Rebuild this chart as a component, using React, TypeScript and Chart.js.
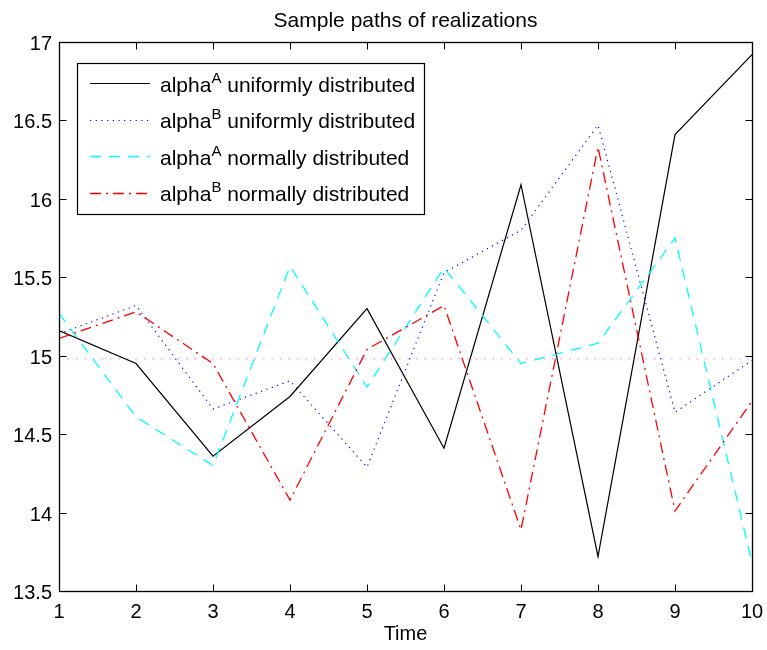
import React, { useEffect, useRef } from "react";
import { Chart, registerables } from "chart.js";

Chart.register(...registerables);

// ---------- data ----------
const timeSteps = [1, 2, 3, 4, 5, 6, 7, 8, 9, 10];
const alphaAUniform = [15.16, 14.95, 14.36, 14.74, 15.3, 14.41, 16.09, 13.72, 16.41, 16.92];
const alphaBUniform = [15.14, 15.32, 14.66, 14.84, 14.29, 15.53, 15.8, 16.47, 14.64, 14.97];
const alphaANormal = [15.27, 14.61, 14.3, 15.57, 14.8, 15.56, 14.95, 15.08, 15.75, 13.68];
const alphaBNormal = [15.11, 15.28, 14.95, 14.08, 15.04, 15.32, 13.89, 16.33, 14.01, 14.71];
const referenceLevel = [14.98, 14.98, 14.98, 14.98, 14.98, 14.98, 14.98, 14.98, 14.98, 14.98];

const xTicks = [1, 2, 3, 4, 5, 6, 7, 8, 9, 10];
const yTicks = [13.5, 14, 14.5, 15, 15.5, 16, 16.5, 17];
const yTickLabels = ["13.5", "14", "14.5", "15", "15.5", "16", "16.5", "17"];

const legendBase = ["alpha", "alpha", "alpha", "alpha"];
const legendSup = ["A", "B", "A", "B"];
const legendRest = [
  " uniformly distributed",
  " uniformly distributed",
  " normally distributed",
  " normally distributed",
];

const titleText = "Sample paths of realizations";
const xLabelText = "Time";

const FONT = '"Liberation Sans", Arial, Helvetica, sans-serif';

const seriesStyles = [
  { color: "rgb(0,0,0)", dash: [] as number[], width: 1.2 },
  { color: "rgb(0,0,255)", dash: [1.2, 4.5], width: 1.2 },
  { color: "rgb(0,255,255)", dash: [11, 8], width: 1.3 },
  { color: "rgb(255,0,0)", dash: [11, 5, 2, 5], width: 1.3 },
];

const toPoints = (ys: number[]) => ys.map((v, i) => ({ x: timeSteps[i], y: v }));

const matlabAxesPlugin = {
  id: "matlabAxes",
  afterDatasetsDraw(chart: any) {
    const { ctx, chartArea, scales } = chart;
    const xs = scales.x;
    const ys = scales.y;
    const L = Math.round(chartArea.left) + 0.5;
    const R = Math.round(chartArea.right) + 0.5;
    const T = Math.round(chartArea.top) + 0.5;
    const B = Math.round(chartArea.bottom) + 0.5;
    const tick = 7;

    ctx.save();
    ctx.setLineDash([]);
    ctx.strokeStyle = "#000";
    ctx.lineWidth = 1;

    // ticks (inward, all four sides)
    ctx.beginPath();
    xTicks.forEach((v) => {
      const px = Math.round(xs.getPixelForValue(v)) + 0.5;
      ctx.moveTo(px, B);
      ctx.lineTo(px, B - tick);
      ctx.moveTo(px, T);
      ctx.lineTo(px, T + tick);
    });
    yTicks.forEach((v) => {
      const py = Math.round(ys.getPixelForValue(v)) + 0.5;
      ctx.moveTo(L, py);
      ctx.lineTo(L + tick, py);
      ctx.moveTo(R, py);
      ctx.lineTo(R - tick, py);
    });
    ctx.stroke();

    // box
    ctx.lineWidth = 1.3;
    ctx.strokeRect(L, T, R - L, B - T);

    // tick labels
    ctx.fillStyle = "#000";
    ctx.font = `20px ${FONT}`;
    ctx.textAlign = "center";
    ctx.textBaseline = "alphabetic";
    xTicks.forEach((v) => {
      ctx.fillText(String(v), xs.getPixelForValue(v), chartArea.bottom + 26.5);
    });
    ctx.textAlign = "right";
    yTicks.forEach((v, i) => {
      ctx.fillText(yTickLabels[i], chartArea.left - 7, ys.getPixelForValue(v) + 8);
    });

    // title
    ctx.textAlign = "center";
    ctx.font = `21px ${FONT}`;
    ctx.fillText(titleText, (chartArea.left + chartArea.right) / 2, 26.5);

    // x label
    ctx.font = `20px ${FONT}`;
    ctx.fillText(xLabelText, (chartArea.left + chartArea.right) / 2, chartArea.bottom + 48.5);

    // legend
    const bx = Math.round(chartArea.left + 18) + 0.5;
    const by = Math.round(chartArea.top + 21) + 0.5;
    const bw = 347;
    const bh = 151;
    ctx.fillStyle = "#fff";
    ctx.fillRect(bx, by, bw, bh);
    ctx.lineWidth = 1.2;
    ctx.strokeStyle = "#000";
    ctx.strokeRect(bx, by, bw, bh);

    legendBase.forEach((base, i) => {
      const rowY = chartArea.top + 41.3 + i * 36.4;
      const st = seriesStyles[i];
      ctx.save();
      ctx.beginPath();
      ctx.setLineDash(st.dash.slice());
      ctx.strokeStyle = st.color;
      ctx.lineWidth = st.width;
      ctx.moveTo(chartArea.left + 31, Math.round(rowY) + 0.5);
      ctx.lineTo(chartArea.left + 91, Math.round(rowY) + 0.5);
      ctx.stroke();
      ctx.restore();

      let tx = chartArea.left + 101;
      const baseY = rowY + 8.5;
      ctx.fillStyle = "#000";
      ctx.textAlign = "left";
      ctx.font = `21px ${FONT}`;
      ctx.fillText(base, tx, baseY);
      tx += ctx.measureText(base).width;
      ctx.font = `15px ${FONT}`;
      ctx.fillText(legendSup[i], tx, baseY - 9);
      tx += ctx.measureText(legendSup[i]).width;
      ctx.font = `21px ${FONT}`;
      ctx.fillText(legendRest[i], tx, baseY);
    });

    ctx.restore();
  },
};

export default function App() {
  const canvasRef = useRef<HTMLCanvasElement | null>(null);

  useEffect(() => {
    const canvas = canvasRef.current;
    if (!canvas) return;
    const datasets: any[] = [
      {
        label: "reference",
        data: toPoints(referenceLevel),
        borderColor: "#ff9cff",
        borderWidth: 1.5,
        borderDash: [1.5, 7],
        pointRadius: 0,
        fill: false,
        tension: 0,
        order: 5,
      },
      ...[alphaAUniform, alphaBUniform, alphaANormal, alphaBNormal].map((vals, i) => ({
        label: legendBase[i] + legendSup[i] + legendRest[i],
        data: toPoints(vals),
        borderColor: seriesStyles[i].color,
        borderWidth: seriesStyles[i].width,
        borderDash: seriesStyles[i].dash.slice(),
        pointRadius: 0,
        fill: false,
        tension: 0,
        order: 4 - i,
      })),
    ];

    const chart = new Chart(canvas, {
      type: "line",
      data: { datasets },
      options: {
        responsive: false,
        animation: false,
        devicePixelRatio: 1,
        layout: { padding: { left: 59, right: 15, top: 42, bottom: 59 } },
        scales: {
          x: { type: "linear", min: 1, max: 10, display: false },
          y: { type: "linear", min: 13.5, max: 17, display: false },
        },
        plugins: {
          legend: { display: false },
          tooltip: { enabled: false },
          title: { display: false },
        },
      },
      plugins: [matlabAxesPlugin],
    });
    return () => chart.destroy();
  }, []);

  return (
    <div style={{ position: "fixed", left: 0, top: 0, width: 767, height: 650, background: "#fff" }}>
      <canvas ref={canvasRef} width={767} height={650} style={{ display: "block" }} />
    </div>
  );
}
